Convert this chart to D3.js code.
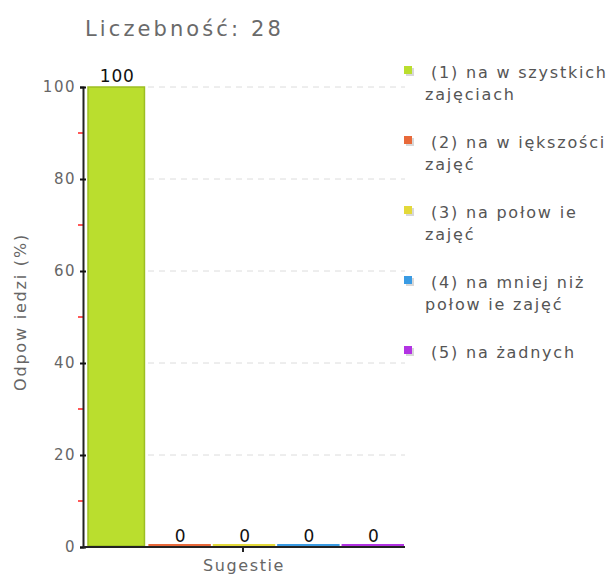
<!DOCTYPE html>
<html>
<head>
<meta charset="utf-8">
<script src="https://cdn.jsdelivr.net/npm/d3@7"></script>
<style>
  body { margin: 0; background: #fff; }
  text { font-family: "DejaVu Sans", Verdana, sans-serif; }
</style>
</head>
<body>
<svg id="chart" width="610" height="577"></svg>
<script>
// data
var categories = ["(1) na wszystkich zajęciach", "(2) na większości zajęć", "(3) na połowie zajęć", "(4) na mniej niż połowie zajęć", "(5) na żadnych"];
var legendLines = [["(1) na w szystkich", "zajęciach"], ["(2) na w iększości", "zajęć"], ["(3) na połow ie", "zajęć"], ["(4) na mniej niż", "połow ie zajęć"], ["(5) na żadnych"]];
var values = [100, 0, 0, 0, 0];
var colors = ["#bade2e", "#e8693a", "#e3d93a", "#3a9be3", "#b233e3"];
var borders = ["#9dbf22", "#c85a30", "#c2ba30", "#2f86c6", "#9529c4"];
var yTicks = [0, 20, 40, 60, 80, 100];
var title = "Liczebność: 28";

var svg = d3.select("#chart");

var x = d3.scaleBand().domain(categories).range([84, 404]).paddingInner(0.03).paddingOuter(0);
var y = d3.scaleLinear().domain([0, 100]).range([547, 87]);

// title
svg.append("text")
    .attr("x", 85).attr("y", 36)
    .attr("font-size", 21).attr("fill", "#6a6a6a")
    .attr("letter-spacing", 3.1)
    .text(title);

// dashed grid
svg.append("g").selectAll("line")
    .data(yTicks.filter(d => d > 0))
    .enter().append("line")
    .attr("x1", 148).attr("x2", 405)
    .attr("y1", d => y(d)).attr("y2", d => y(d))
    .attr("stroke", "#dcdcdc").attr("stroke-dasharray", "6,5");

// bars
svg.append("g").selectAll("rect")
    .data(values)
    .enter().append("rect")
    .attr("x", (d, i) => x(categories[i]) + (d > 0 ? 4 : 0))
    .attr("width", (d, i) => x.bandwidth() - (d > 0 ? 6 : 0))
    .attr("y", d => d > 0 ? y(d) : y(0) - 3)
    .attr("height", d => d > 0 ? y(0) - y(d) - 1 : 3)
    .attr("fill", (d, i) => colors[i])
    .attr("stroke", (d, i) => d > 0 ? borders[i] : "none")
    .attr("stroke-width", 1.5);

// value labels
svg.append("g").selectAll("text")
    .data(values)
    .enter().append("text")
    .attr("x", (d, i) => x(categories[i]) + x.bandwidth() / 2 + (d > 0 ? 2 : 1))
    .attr("y", d => y(d) - 5)
    .attr("text-anchor", "middle")
    .attr("font-size", 17).attr("fill", "#111")
    .attr("letter-spacing", 0.8)
    .text(d => d);

// minor red ticks
svg.append("g").selectAll("line")
    .data([10, 30, 50, 70, 90])
    .enter().append("line")
    .attr("x1", 78).attr("x2", 83)
    .attr("y1", d => y(d)).attr("y2", d => y(d))
    .attr("stroke", "#ff2020").attr("stroke-width", 1.5);

// y axis
var yAxis = d3.axisLeft(y).tickValues(yTicks).tickSize(3).tickPadding(4);
var gy = svg.append("g").attr("transform", "translate(83,0)").call(yAxis);
gy.select(".domain").attr("stroke", "#222").attr("stroke-width", 2);
gy.selectAll(".tick line").attr("x2", 3).attr("x1", -3).attr("stroke", "#111").attr("stroke-width", 2);
gy.selectAll(".tick text").attr("font-size", 15).attr("fill", "#666")
    .attr("letter-spacing", 1.5)
    .attr("font-family", "DejaVu Sans, Verdana, sans-serif");

// x axis
svg.append("line")
    .attr("x1", 83).attr("x2", 405)
    .attr("y1", y(0)).attr("y2", y(0))
    .attr("stroke", "#222").attr("stroke-width", 2);
svg.append("line")
    .attr("x1", 243).attr("x2", 243)
    .attr("y1", y(0)).attr("y2", y(0) + 5)
    .attr("stroke", "#222").attr("stroke-width", 2);
svg.append("text")
    .attr("x", 244).attr("y", 571)
    .attr("text-anchor", "middle")
    .attr("font-size", 16).attr("fill", "#666")
    .attr("letter-spacing", 1.6)
    .text("Sugestie");

// y axis title
svg.append("text")
    .attr("transform", "translate(26,312) rotate(-90)")
    .attr("text-anchor", "middle")
    .attr("font-size", 16).attr("fill", "#666")
    .attr("letter-spacing", 1.8)
    .text("Odpow iedzi (%)");

// legend
var leg = svg.append("g").selectAll("g")
    .data(legendLines)
    .enter().append("g")
    .attr("transform", (d, i) => "translate(0," + (i * 70) + ")");
leg.append("rect")
    .attr("x", 406).attr("y", 68).attr("width", 8).attr("height", 8)
    .attr("fill", "#d8d8d8");
leg.append("rect")
    .attr("x", 404).attr("y", 66).attr("width", 8).attr("height", 8)
    .attr("fill", (d, i) => colors[i]);
leg.append("text")
    .attr("font-size", 16).attr("fill", "#555")
    .attr("letter-spacing", 1.8)
    .selectAll("tspan")
    .data(d => d)
    .enter().append("tspan")
    .attr("x", (d, j) => j === 0 ? 431 : 425)
    .attr("y", (d, j) => 78 + j * 22)
    .text(d => d);
</script>
</body>
</html>
